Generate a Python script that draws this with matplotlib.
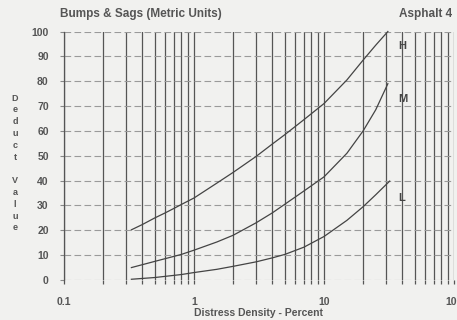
import matplotlib
matplotlib.use("Agg")
import matplotlib.pyplot as plt
from matplotlib.ticker import FixedLocator, NullFormatter, LogLocator

# ---- data ----
density_H = [0.33, 0.4, 0.5, 0.6, 0.7, 0.8, 1, 1.5, 2, 3, 4, 5, 7, 10, 15, 20, 25, 31]
deduct_H = [20.2, 22.3, 25, 27, 28.8, 30.4, 33, 39, 43.3, 49.7, 54.7, 58.5, 64.5, 71, 80.5, 88.5, 94.5, 100]
density_M = [0.33, 0.5, 0.8, 1, 1.5, 2, 3, 4, 5, 7, 10, 15, 20, 25, 31]
deduct_M = [5, 7.5, 10.3, 12, 15.3, 18, 23, 27, 30.5, 35.8, 41.5, 51, 60, 68.5, 79]
density_L = [0.33, 0.5, 0.8, 1, 1.5, 2, 3, 4, 5, 7, 10, 15, 20, 25, 32]
deduct_L = [0.3, 1, 2.2, 3, 4.3, 5.5, 7.3, 8.9, 10.3, 13.2, 17.5, 24, 29.5, 34.3, 39.8]
curve_labels = ["H", "M", "L"]
label_pos = [(37.5, 94), (37.5, 73), (37.5, 33)]
x_ticks = [0.1, 1, 10, 100]
x_ticklabels = ["0.1", "1", "10", "100"]
y_ticks = [0, 10, 20, 30, 40, 50, 60, 70, 80, 90, 100]

plt.rcParams['font.family'] = ['Liberation Sans', 'DejaVu Sans']
bg = '#f1f1ef'
txt = '#555555'

fig = plt.figure(figsize=(4.57, 3.20), dpi=100, facecolor=bg)
ax = fig.add_axes([64/457, 40/320, 390/457, 248.5/320], facecolor=bg)
ax.set_xscale('log')
ax.set_xlim(0.1, 100)
ax.set_ylim(0, 100)

for sp in ['top', 'right']:
    ax.spines[sp].set_visible(False)
ax.spines['left'].set_color('#555555')
ax.spines['left'].set_linewidth(0.9)
ax.spines['bottom'].set_visible(False)

ax.xaxis.set_major_locator(FixedLocator(x_ticks))
ax.set_xticklabels(x_ticklabels)
ax.xaxis.set_minor_locator(LogLocator(base=10, subs=range(2, 10)))
ax.xaxis.set_minor_formatter(NullFormatter())
ax.set_yticks(y_ticks)

ax.tick_params(axis='x', which='both', length=3, width=0.9, color='#555555',
               labelsize=7.5, labelcolor=txt, pad=9)
ax.tick_params(axis='y', length=3, width=0.8, color='#888888',
               labelsize=7.5, labelcolor=txt, pad=8)
for lab in ax.get_xticklabels() + ax.get_yticklabels():
    lab.set_fontweight('bold')

ax.grid(True, which='both', axis='x', color='#555555', lw=0.9, ls='-')
ax.grid(True, which='major', axis='y', color='#9a9a9a', lw=0.8, ls=(0, (6, 3)))
ax.set_axisbelow(True)

for xs, ys in ((density_H, deduct_H), (density_M, deduct_M), (density_L, deduct_L)):
    ax.plot(xs, ys, color='#444444', lw=0.9, clip_on=False, zorder=3,
            solid_joinstyle='round')

for lab, (xx, yy) in zip(curve_labels, label_pos):
    ax.text(xx, yy, lab, fontsize=8, fontweight='bold', color='#444444',
            ha='left', va='center', zorder=4)

ax.set_xlabel("Distress Density - Percent", fontsize=7.5, fontweight='bold',
              color=txt, labelpad=1)

fig.text(15/457, 157/320, "\n".join("Deduct Value"), fontsize=6.5,
         fontweight='bold', color=txt, ha='center', va='center',
         linespacing=1.4)
fig.text(60/457, 1 - 14/320, "Bumps & Sags (Metric Units)", fontsize=8.5,
         fontweight='bold', color=txt, ha='left', va='center')
fig.text(452/457, 1 - 14/320, "Asphalt 4", fontsize=8.5,
         fontweight='bold', color=txt, ha='right', va='center')

fig.savefig("out.png", dpi=100, facecolor=bg)
